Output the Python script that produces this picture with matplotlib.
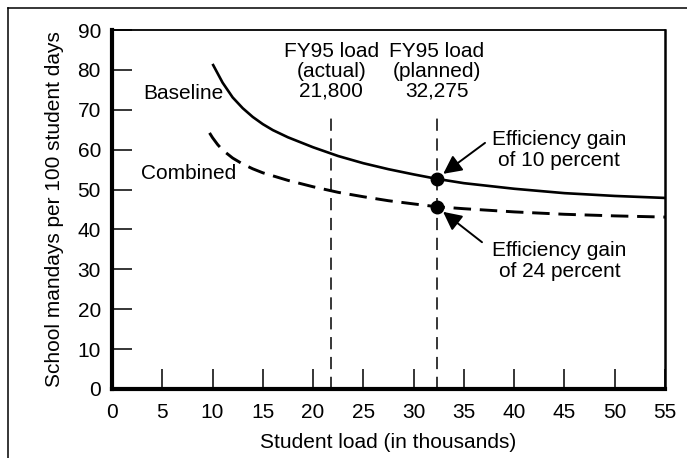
import matplotlib
matplotlib.use('Agg')
import matplotlib.pyplot as plt
from matplotlib.lines import Line2D

plt.rcParams['font.family'] = ['Liberation Sans', 'DejaVu Sans']

# student load (thousands) and mandays per 100 student days
load_b = [10, 11, 12, 13, 14, 15, 16, 17.5, 20, 22.5, 25, 27.5, 30, 32.275, 35, 40, 45, 50, 55]
baseline = [81.5, 76.8, 73.1, 70.4, 68.2, 66.4, 64.9, 63.1, 60.6, 58.4, 56.6, 55.1, 53.8, 52.7,
            51.6, 50.2, 49.1, 48.4, 47.9]
load_c = [9.7, 10, 10.5, 11, 12, 13, 14, 15, 17.5, 20, 22.5, 25, 27.5, 30, 32.275, 35, 40, 45, 50, 55]
combined = [64.2, 63.0, 61.3, 59.9, 57.9, 56.4, 55.2, 54.2, 52.3, 50.7, 49.3, 48.2, 47.2, 46.4,
            45.7, 45.2, 44.4, 43.8, 43.4, 43.1]

fy95_actual = 21.8
fy95_planned = 32.275
dot_base = 52.7
dot_comb = 45.7

xticks = list(range(0, 60, 5))
yticks = list(range(0, 100, 10))

fs = 15

fig = plt.figure(figsize=(6.87, 4.58), dpi=100)
ax = fig.add_axes([112/687, 1-389/458, (665-112)/687, (389-30)/458])

ax.plot(load_b, baseline, color='k', lw=1.9, solid_capstyle='butt')
ax.plot(load_c, combined, color='k', lw=2.1, linestyle=(0, (6, 3)))

# vertical reference lines
for xv in [fy95_actual, fy95_planned]:
    ax.plot([xv, xv], [0, 68.2], color='k', lw=1.1, linestyle=(0, (8, 5)))

ax.plot([fy95_planned, fy95_planned], [dot_base, dot_comb], 'o', color='k', ms=9)

ax.text(fy95_actual, 79.7, 'FY95 load\n(actual)\n21,800', ha='center', va='center',
        fontsize=fs, linespacing=1.05)
ax.text(fy95_planned, 79.7, 'FY95 load\n(planned)\n32,275', ha='center', va='center',
        fontsize=fs, linespacing=1.05)
ax.text(3.1, 74.2, 'Baseline', ha='left', va='center', fontsize=fs)
ax.text(2.9, 54.1, 'Combined', ha='left', va='center', fontsize=fs)

arr = dict(arrowstyle='-|>', color='k', lw=1.4, mutation_scale=28, shrinkA=0, shrinkB=6)
ax.annotate('', xy=(fy95_planned, dot_base), xytext=(37.1, 61.7), arrowprops=arr)
ax.annotate('', xy=(fy95_planned, dot_comb), xytext=(36.8, 36.8), arrowprops=arr)
ax.text(44.5, 59.9, 'Efficiency gain\nof 10 percent', ha='center', va='center',
        fontsize=fs, linespacing=1.15)
ax.text(44.5, 32.0, 'Efficiency gain\nof 24 percent', ha='center', va='center',
        fontsize=fs, linespacing=1.15)

ax.set_xlim(0, 55)
ax.set_ylim(0, 90)
ax.set_xticks(xticks)
ax.set_yticks(yticks)
ax.tick_params(direction='in', length=14.5, width=1.1, labelsize=fs)
ax.tick_params(axis='y', pad=8)
ax.tick_params(axis='x', pad=10)
ax.spines['left'].set_linewidth(3)
ax.spines['bottom'].set_linewidth(3)
ax.spines['top'].set_linewidth(1.3)
ax.spines['right'].set_linewidth(1.8)

ax.set_xlabel('Student load (in thousands)', fontsize=fs, labelpad=8)
ax.set_ylabel('School mandays per 100 student days', fontsize=fs, labelpad=10)

# frame round the figure
fig.add_artist(Line2D([8/687, 8/687], [0, 1-8/458], color='k', lw=1.1))
fig.add_artist(Line2D([8/687, 1], [1-8/458, 1-8/458], color='k', lw=1.1))

fig.savefig('out.png', dpi=100)
